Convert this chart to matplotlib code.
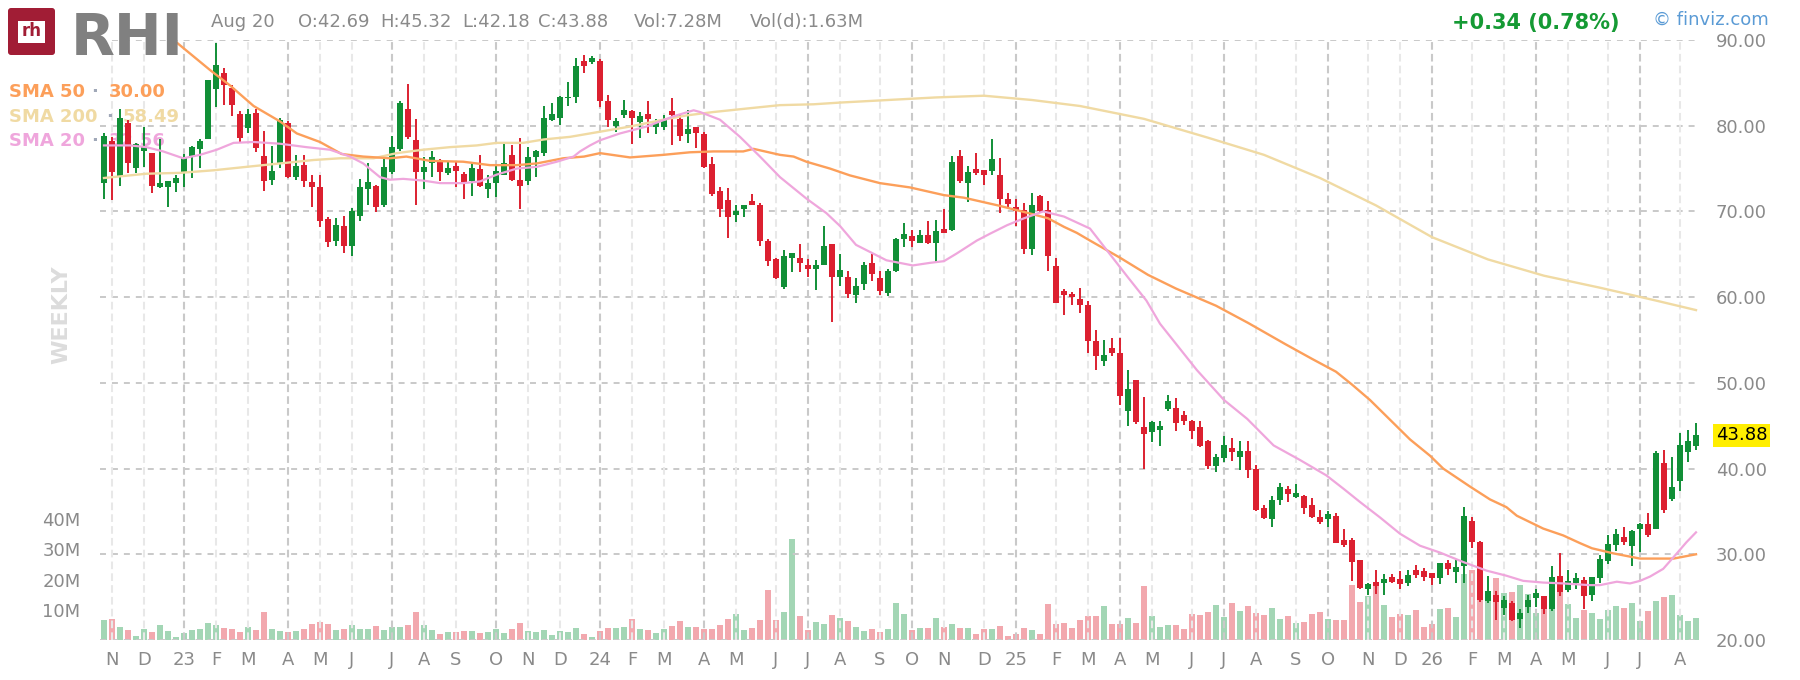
import matplotlib
matplotlib.use('Agg')
import matplotlib.pyplot as plt
import numpy as np
import pandas as pd
from matplotlib.patches import FancyBboxPatch, Rectangle

plt.rcParams['lines.scale_dashes'] = False

# weekly candles, first bar = week ending 2022-10-28
first_friday = '2022-10-28'
opens = [
    73.3, 78.2, 74.1, 80.3, 75.1, 77.0, 76.8, 72.8, 72.9, 73.3,
    74.5, 76.5, 77.3, 78.5, 84.3, 86.1, 84.4, 81.4, 79.7, 81.5,
    76.5, 73.7, 75.7, 80.3, 74.0, 75.4, 73.4, 72.9, 69.1, 66.6,
    68.3, 66.0, 69.5, 72.6, 73.0, 70.7, 74.6, 77.3, 82.0, 78.3,
    74.6, 75.7, 76.0, 74.5, 75.3, 74.4, 73.5, 74.9, 72.6, 73.3,
    74.3, 76.6, 73.7, 73.5, 76.3, 76.8, 80.7, 80.9, 83.2, 83.4,
    87.5, 87.4, 87.5, 82.9, 80.0, 81.2, 81.7, 80.4, 81.4, 79.8,
    79.9, 81.7, 80.8, 79.0, 79.8, 79.0, 75.5, 72.4, 71.3, 69.6,
    70.3, 71.2, 70.8, 66.6, 64.5, 61.2, 64.6, 64.6, 63.8, 63.3,
    63.8, 66.2, 62.4, 62.3, 60.2, 61.5, 64.0, 62.2, 60.5, 63.1,
    66.8, 67.1, 66.3, 67.2, 66.3, 68.0, 67.8, 76.5, 73.3, 75.0,
    74.8, 74.7, 74.2, 71.4, 70.5, 70.2, 65.6, 71.8, 70.2, 63.6,
    60.7, 60.4, 59.8, 59.1, 54.9, 52.6, 54.1, 53.5, 46.7, 50.3,
    44.9, 44.3, 44.5, 46.9, 47.1, 46.2, 45.6, 44.8, 43.2, 40.3,
    41.2, 42.4, 41.4, 42.0, 39.9, 35.4, 34.1, 36.3, 37.6, 36.7,
    36.8, 35.7, 34.4, 34.1, 34.5, 31.7, 31.7, 29.3, 26.0, 26.8,
    26.6, 27.4, 27.1, 26.7, 28.2, 28.0, 27.8, 27.2, 29.0, 27.9,
    28.6, 33.9, 31.4, 24.6, 25.3, 23.7, 24.3, 22.4, 23.8, 24.9,
    25.1, 23.6, 27.5, 25.8, 26.6, 27.0, 25.3, 27.2, 29.2, 31.1,
    32.0, 31.0, 33.0, 33.5, 33.0, 40.6, 36.4, 38.5, 41.9, 42.69,
]
highs = [
    79.1, 78.7, 81.9, 80.7, 78.0, 79.8, 76.8, 78.4, 73.5, 74.2,
    76.7, 77.6, 78.5, 85.3, 89.7, 86.7, 84.7, 81.7, 82.0, 82.0,
    79.4, 77.6, 80.9, 80.5, 76.6, 76.6, 74.2, 74.2, 69.4, 69.2,
    69.5, 70.4, 73.8, 75.7, 73.1, 76.4, 78.8, 82.9, 84.9, 80.8,
    76.3, 77.0, 76.1, 75.8, 75.9, 74.6, 75.5, 76.6, 74.2, 75.5,
    77.9, 77.7, 78.6, 77.5, 77.2, 82.3, 82.7, 83.5, 85.1, 87.9,
    88.2, 88.1, 87.8, 83.6, 80.9, 83.0, 81.8, 81.6, 82.9, 80.8,
    81.3, 83.2, 81.3, 81.8, 79.9, 79.3, 76.4, 72.8, 72.7, 70.7,
    70.8, 72.0, 71.0, 66.8, 64.6, 65.5, 65.2, 66.2, 64.4, 64.3,
    68.3, 66.2, 65.0, 63.0, 62.2, 64.1, 65.0, 63.0, 63.3, 66.9,
    68.6, 67.8, 67.8, 68.9, 69.0, 70.3, 76.5, 77.2, 75.3, 76.8,
    74.8, 78.4, 76.2, 72.2, 71.4, 71.0, 72.1, 71.9, 71.2, 64.6,
    60.9, 60.6, 61.1, 59.6, 56.2, 55.0, 55.2, 55.2, 51.5, 50.3,
    48.4, 45.6, 45.5, 48.6, 48.2, 46.7, 45.7, 45.6, 43.3, 41.7,
    43.8, 43.6, 43.2, 43.2, 40.4, 35.7, 36.8, 38.3, 38.0, 38.2,
    36.9, 36.6, 35.2, 35.1, 34.8, 32.9, 31.9, 29.3, 26.7, 28.2,
    27.7, 27.7, 28.0, 28.2, 28.8, 28.4, 27.8, 29.0, 29.3, 29.3,
    35.5, 34.3, 31.6, 27.5, 25.7, 25.1, 24.5, 23.6, 25.3, 26.0,
    25.1, 28.6, 30.2, 28.2, 27.8, 27.4, 27.4, 29.9, 32.3, 32.9,
    33.2, 32.8, 33.7, 34.8, 42.0, 42.2, 41.3, 44.1, 44.5, 45.32,
]
lows = [
    71.5, 71.3, 73.0, 74.5, 74.5, 75.2, 72.2, 72.7, 70.5, 72.3,
    72.9, 73.9, 75.1, 78.4, 82.2, 82.4, 81.1, 78.1, 79.1, 76.9,
    72.4, 73.1, 75.1, 73.9, 73.7, 72.9, 70.5, 68.2, 65.9, 66.0,
    65.2, 64.8, 68.9, 70.8, 69.9, 70.5, 74.4, 77.1, 78.4, 70.7,
    72.6, 74.0, 73.5, 74.3, 72.8, 71.4, 71.8, 72.9, 71.6, 71.7,
    74.2, 73.5, 70.3, 73.1, 74.0, 76.5, 80.6, 80.1, 82.3, 82.6,
    86.1, 87.2, 82.2, 79.8, 79.3, 80.9, 77.9, 78.6, 79.2, 79.0,
    79.5, 77.7, 78.2, 78.0, 77.4, 75.1, 71.8, 69.4, 66.9, 68.8,
    69.3, 70.7, 66.0, 63.6, 62.1, 61.0, 62.9, 62.9, 62.4, 60.8,
    63.7, 57.1, 61.3, 59.9, 59.3, 60.8, 61.9, 60.2, 60.1, 62.9,
    65.9, 65.9, 66.3, 66.2, 64.0, 67.5, 67.7, 73.3, 71.1, 74.2,
    73.1, 74.2, 69.8, 70.5, 68.3, 65.0, 64.9, 69.8, 63.1, 59.3,
    57.9, 59.1, 58.2, 53.5, 51.5, 52.0, 53.1, 47.4, 45.0, 45.2,
    39.9, 43.1, 42.6, 46.7, 44.4, 45.1, 43.4, 42.5, 39.9, 39.6,
    40.8, 40.9, 39.8, 38.9, 35.1, 34.1, 33.2, 35.7, 36.1, 36.6,
    34.7, 34.2, 33.5, 33.2, 31.3, 30.8, 26.9, 26.0, 25.2, 25.4,
    25.3, 26.7, 25.9, 26.3, 27.2, 26.9, 26.4, 26.5, 27.6, 26.7,
    26.6, 30.7, 24.4, 24.3, 22.3, 22.9, 22.2, 21.4, 23.2, 23.8,
    23.0, 23.4, 25.1, 25.6, 25.9, 23.6, 24.5, 26.6, 28.9, 30.4,
    31.1, 28.6, 30.3, 32.0, 32.9, 34.8, 36.2, 37.4, 40.8, 42.18,
]
closes = [
    78.8, 74.6, 80.9, 75.6, 77.9, 77.5, 73.0, 73.3, 73.5, 73.9,
    76.2, 77.5, 78.2, 85.3, 87.1, 84.7, 82.4, 78.6, 81.4, 77.4,
    73.5, 74.7, 80.7, 74.0, 75.3, 73.5, 72.9, 68.9, 66.4, 68.4,
    66.0, 70.0, 72.8, 73.4, 70.5, 75.2, 77.5, 82.7, 78.7, 74.6,
    75.2, 76.3, 74.6, 75.1, 74.7, 73.3, 75.1, 73.0, 73.3, 74.7,
    75.7, 73.7, 73.0, 76.4, 77.0, 80.9, 81.4, 83.4, 83.4, 87.0,
    87.0, 87.9, 82.9, 80.7, 80.5, 81.8, 80.9, 81.1, 80.8, 80.3,
    80.7, 81.2, 78.8, 79.6, 79.2, 75.2, 72.0, 70.3, 69.4, 70.1,
    70.8, 70.7, 66.6, 64.2, 62.2, 64.8, 65.1, 64.0, 63.3, 63.8,
    66.0, 62.4, 63.2, 60.4, 61.3, 63.8, 62.7, 60.7, 63.1, 66.8,
    67.4, 66.5, 67.2, 66.3, 67.7, 67.5, 75.8, 73.5, 74.6, 74.5,
    74.3, 76.1, 71.4, 70.9, 70.0, 65.6, 70.8, 70.0, 64.8, 59.3,
    60.2, 60.0, 59.1, 54.9, 53.1, 53.2, 53.5, 48.5, 49.3, 45.4,
    44.0, 45.4, 45.0, 47.9, 45.3, 45.6, 44.4, 42.6, 40.3, 41.3,
    42.8, 41.9, 42.0, 39.8, 35.2, 34.2, 36.3, 37.9, 37.0, 37.2,
    35.4, 34.4, 33.8, 34.7, 31.3, 31.1, 29.1, 26.1, 26.5, 26.3,
    27.1, 26.8, 26.5, 27.6, 27.6, 27.4, 27.2, 29.0, 28.3, 28.5,
    34.5, 31.4, 24.7, 25.7, 24.4, 24.7, 22.3, 23.2, 24.7, 25.5,
    23.6, 27.4, 25.6, 26.9, 27.2, 25.1, 27.3, 29.4, 31.2, 32.4,
    31.4, 32.7, 33.5, 32.3, 41.8, 35.2, 37.8, 42.7, 43.2, 43.88,
]
volumes_m = [
    6.6, 6.9, 4.3, 3.3, 1.3, 3.6, 2.6, 4.9, 2.9, 1.0,
    2.3, 3.3, 3.6, 5.6, 4.9, 4.0, 3.6, 2.6, 4.3, 3.3,
    9.3, 3.6, 2.9, 2.6, 2.9, 3.6, 5.3, 6.0, 5.3, 3.3,
    3.6, 4.9, 3.6, 3.6, 4.6, 3.3, 4.3, 4.3, 4.9, 9.3,
    4.9, 3.3, 2.0, 2.6, 2.6, 2.9, 2.9, 2.3, 2.6, 3.6,
    2.3, 3.6, 5.6, 2.9, 2.6, 3.3, 1.7, 2.9, 2.6, 4.0,
    2.0, 1.0, 2.9, 4.0, 4.0, 4.3, 6.9, 3.6, 3.3, 2.3,
    3.6, 4.6, 6.3, 4.3, 4.3, 3.6, 3.6, 4.9, 6.9, 8.6,
    3.3, 4.0, 6.6, 16.6, 6.6, 9.3, 33.4, 8.0, 3.3, 6.0,
    5.3, 8.3, 7.3, 6.3, 4.3, 2.9, 3.6, 2.6, 3.6, 12.3,
    8.6, 3.3, 4.0, 4.0, 7.3, 4.3, 5.3, 4.0, 4.0, 2.0,
    3.6, 3.6, 4.6, 1.3, 2.0, 4.0, 3.3, 2.0, 11.9, 5.3,
    5.6, 4.0, 6.6, 7.9, 7.9, 11.3, 5.3, 5.3, 7.3, 5.6,
    17.9, 7.9, 4.3, 4.9, 4.9, 3.6, 8.6, 8.3, 9.3, 11.6,
    7.6, 12.3, 9.6, 11.3, 8.9, 8.3, 10.6, 6.9, 7.9, 5.6,
    6.0, 8.6, 9.3, 7.0, 6.6, 6.6, 18.1, 12.7, 14.5, 18.9,
    11.6, 7.5, 8.6, 8.3, 9.9, 4.4, 5.4, 10.3, 10.6, 7.6,
    21.8, 23.2, 17.0, 13.3, 20.6, 15.6, 15.9, 18.2, 15.2, 9.0,
    11.9, 10.5, 17.0, 11.9, 7.3, 9.9, 9.0, 7.0, 9.9, 11.2,
    10.6, 12.3, 6.3, 9.7, 13.0, 14.3, 14.9, 8.3, 6.3, 7.28,
]

# moving averages (x = week index)
sma50_wk = [0, 4, 8.7, 13.25, 15.75, 18.7, 22, 24.1, 27, 29.7, 32.4, 35.75, 37.8,
            40.75, 44.9, 48.25, 51.6, 54.1, 57.4, 60, 62, 65.75, 69.9, 73.25, 76.2,
            79.9, 81.2, 84.5, 86.2, 87.8, 90.75, 93.25, 97, 100.75, 105, 107.5,
            111.75, 116, 118, 120, 121.6, 123.25, 127, 130.5, 134, 139, 143, 147.7,
            151, 154, 156, 158.25, 163.25, 165.75, 167.4, 170.75, 173.25, 175.3,
            176.6, 179.9, 182.4, 184.5, 186, 188.7, 192, 196.2, 199]
sma50 = [96.5, 93.3, 90.0, 86.5, 84.7, 82.3, 80.5, 79.1, 78.1, 76.7, 76.4, 76.2, 76.4,
         75.9, 75.8, 75.4, 75.4, 75.6, 76.2, 76.4, 76.8, 76.3, 76.6, 76.9, 77.0,
         77.0, 77.3, 76.6, 76.4, 75.8, 75.0, 74.2, 73.3, 72.8, 71.9, 71.6,
         70.7, 69.7, 69.2, 68.2, 67.5, 66.6, 64.6, 62.6, 61.0, 59.0, 57.0, 54.5,
         52.8, 51.3, 49.8, 48.0, 43.4, 41.5, 40.0, 37.9, 36.4, 35.5,
         34.5, 33.0, 32.2, 31.3, 30.7, 30.1, 29.5, 29.5, 30.00]

sma200_wk = [0, 5.3, 9.5, 13.7, 17.8, 22, 26.2, 29.5, 33.7, 36.6, 39.9, 43.25, 46.6,
             49.1, 52.4, 55, 58.25, 60.75, 65.75, 69.9, 72.8, 76.2, 80.3, 84.5, 88.7,
             92, 98, 104, 110, 116, 122, 130, 138, 145, 152, 159, 166, 173, 180,
             187, 194, 199]
sma200 = [73.9, 74.4, 74.5, 74.8, 75.2, 75.6, 76.0, 76.2, 76.2, 76.8, 77.2, 77.5, 77.7,
          78.0, 78.0, 78.4, 78.7, 79.1, 79.9, 80.7, 81.2, 81.6, 82.0, 82.4, 82.5,
          82.7, 83.0, 83.3, 83.5, 83.0, 82.3, 80.8, 78.6, 76.6, 73.9, 70.7, 67.0,
          64.4, 62.5, 61.1, 59.6, 58.49]

sma20_wk = [0, 3.25, 5.3, 7.4, 9.9, 12, 14.1, 16.2, 18.7, 22, 25.3, 28.25, 30.75,
            32.4, 34.5, 35.75, 37.4, 39.9, 42, 44.9, 47, 49.1, 51.6, 54.1, 56.6,
            58.7, 59.5, 60.75, 62, 64.5, 67.8, 71.2, 73.7, 74.5, 77, 79.5, 82,
            84.5, 87.8, 90.3, 92, 94, 97.8, 101.1, 103.25, 105, 106.6, 109.1,
            110.75, 112.9, 115, 117.4, 120, 123.25, 126, 128, 130.3, 132, 136.6,
            140, 142.9, 146.2, 149.5, 152.8, 155, 157, 159.5, 162, 164.5, 167,
            169.9, 172.8, 175.3, 177.4, 179.9, 182.4, 185.75, 187, 189.1, 190.75,
            192, 193.25, 194.9, 196.6, 197.8, 199]
sma20 = [77.7, 77.7, 77.5, 77.0, 76.2, 76.6, 77.2, 78.0, 78.1, 77.9, 77.5, 77.2, 76.4,
         75.6, 74.0, 73.7, 73.8, 73.6, 73.3, 73.3, 73.5, 74.3, 75.0, 75.2, 75.8,
         76.4, 77.0, 77.7, 78.3, 79.1, 79.9, 81.1, 81.8, 81.6, 80.7, 78.7, 76.4,
         74.0, 71.5, 69.8, 68.3, 66.1, 64.3, 63.7, 64.0, 64.2, 65.1, 66.6,
         67.4, 68.4, 69.2, 70.0, 69.4, 68.0, 64.7, 62.3, 59.6, 56.9, 51.5,
         48.0, 45.8, 42.7, 41.0, 39.2, 37.6, 36.1, 34.3, 32.4, 31.0, 30.2,
         29.1, 28.1, 27.5, 26.9, 26.7, 26.6, 26.4, 26.4, 26.8, 26.6,
         26.9, 27.4, 28.3, 30.1, 31.4, 32.56]

month_labels = ['N', 'D', '23', 'F', 'M', 'A', 'M', 'J', 'J', 'A', 'S', 'O',
                'N', 'D', '24', 'F', 'M', 'A', 'M', 'J', 'J', 'A', 'S', 'O',
                'N', 'D', '25', 'F', 'M', 'A', 'M', 'J', 'J', 'A', 'S', 'O',
                'N', 'D', '26', 'F', 'M', 'A', 'M', 'J', 'J', 'A']
price_ticks = [20, 30, 40, 50, 60, 70, 80, 90]
vol_ticks = [10, 20, 30, 40]

day_change = 0.34
day_change_pct = 0.78
header_date = 'Aug 20'
day_vol = 1.63

GREEN = '#118f37'
RED = '#dc2030'
VGREEN = '#a3d6b5'
VRED = '#f2a8ae'
C50 = '#fc9f5a'
C200 = '#f0daa3'
C20 = '#efa6dc'
GRAY = '#8a8a8a'

W, H = 1800, 680
fig = plt.figure(figsize=(18, 6.8), dpi=100)
fig.patch.set_facecolor('white')


def fx(x):
    return x / W


def fy(y):
    return 1 - y / H


ax = fig.add_axes([fx(100), fy(640), 1600 / W, 600 / H])
axv = ax.twinx()
ax.set_zorder(2)
axv.set_zorder(1)
ax.patch.set_visible(False)

n = len(closes)
x = np.arange(n)
o = np.array(opens)
h = np.array(highs)
l = np.array(lows)
c = np.array(closes)
up = c >= o

# volume
axv.bar(x, volumes_m, 0.75, color=np.where(up, VGREEN, VRED), linewidth=0)
axv.set_ylim(0, 600 / 3.02)
axv.set_yticks(vol_ticks)
axv.set_yticklabels([f'{v}M' for v in vol_ticks])
axv.yaxis.set_ticks_position('left')
axv.tick_params(axis='y', length=0, pad=14, labelsize=13, labelcolor=GRAY,
                left=True, right=False, labelleft=True, labelright=False)

# grid
fridays = pd.date_range(first_friday, periods=n, freq='7D')
month_pos = [i for i in range(1, n) if fridays[i].month != fridays[i - 1].month]
for y in price_ticks:
    ax.axhline(y, color='#c9c9c9', lw=1.4, ls=(0, (4.3, 4.3)), zorder=1)
for i in month_pos:
    col = '#c9c9c9' if fridays[i].month in (1, 4, 7, 10) else '#e8e8e8'
    ax.axvline(i, color=col, lw=1.5, ls=(0, (5.5, 3)), zorder=1)

# candles
cols = np.where(up, GREEN, RED)
ax.vlines(x, l, h, colors=cols, lw=1.4, zorder=3)
ax.bar(x, np.maximum(np.abs(c - o), 0.12), 0.75, bottom=np.minimum(o, c),
       color=cols, linewidth=0, zorder=4)

# moving averages
ax.plot(sma200_wk, sma200, color=C200, lw=1.7, zorder=5)
ax.plot(sma50_wk, sma50, color=C50, lw=1.7, zorder=5)
ax.plot(sma20_wk, sma20, color=C20, lw=1.6, zorder=5)

ax.set_xlim(-0.5, n - 0.5)
ax.set_ylim(20, 90)
ax.set_xticks(month_pos)
ax.set_xticklabels(month_labels)
ax.set_yticks(price_ticks)
ax.set_yticklabels([f'{v:.2f}' for v in price_ticks])
ax.yaxis.tick_right()
ax.tick_params(axis='y', length=0, pad=11.5, labelsize=13, labelcolor=GRAY)
ax.tick_params(axis='x', length=0, pad=8, labelsize=13, labelcolor=GRAY)
for a in (ax, axv):
    for s in a.spines.values():
        s.set_visible(False)

# last price tag
ax.annotate(f'{closes[-1]:.2f}', xy=(1, closes[-1]), xycoords=('axes fraction', 'data'),
            xytext=(11.5, 0), textcoords='offset points', va='center', ha='left',
            fontsize=13, color='black',
            bbox=dict(boxstyle='square,pad=0.15', fc='#ffee00', ec='none'),
            annotation_clip=False, zorder=10)

# header
lax = fig.add_axes([fx(8), fy(55), 47 / W, 47 / H])
lax.set_xlim(0, 47)
lax.set_ylim(0, 47)
lax.axis('off')
lax.add_patch(FancyBboxPatch((3, 3), 41, 41, boxstyle='round,pad=3',
                             fc='#a11d35', ec='none'))
lax.add_patch(Rectangle((10, 12), 27, 22, fc='white', ec='none'))
lax.text(23.5, 19, 'rh', ha='center', va='baseline', fontsize=12,
         fontweight='bold', color='#a11d35')

fig.text(fx(71), fy(55), 'RHI', fontsize=41, fontweight='bold', color='#808080',
         ha='left', va='baseline')

header = [(header_date, 211), (f'O:{opens[-1]:.2f}', 298), (f'H:{highs[-1]:.2f}', 380),
          (f'L:{lows[-1]:.2f}', 462), (f'C:{closes[-1]:.2f}', 538),
          (f'Vol:{volumes_m[-1]:.2f}M', 634), (f'Vol(d):{day_vol:.2f}M', 750)]
for txt, px in header:
    fig.text(fx(px), fy(27), txt, fontsize=13, color=GRAY, ha='left', va='baseline')

fig.text(fx(1619), fy(29), f'+{day_change:.2f} ({day_change_pct:.2f}%)', fontsize=15,
         fontweight='bold', color='#159a34', ha='right', va='baseline')
fig.text(fx(1653), fy(25), '\u00a9 finviz.com', fontsize=13, color='#5b9bd5',
         ha='left', va='baseline')

# legend
legend_rows = [('SMA 50', sma50[-1], C50, 97, 95, 109),
               ('SMA 200', sma200[-1], C200, 122, 110, 123),
               ('SMA 20', sma20[-1], C20, 146, 95, 109)]
for name, val, col, base, dot_x, val_x in legend_rows:
    ax.text(fx(9), fy(base), name, transform=fig.transFigure, fontsize=13,
            fontweight='bold', color=col, ha='left', va='baseline', zorder=2)
    ax.text(fx(dot_x), fy(base), '\u00b7', transform=fig.transFigure, fontsize=13,
            fontweight='bold', color='#a0a8b8', ha='center', va='baseline', zorder=2)
    ax.text(fx(val_x), fy(base), f'{val:.2f}', transform=fig.transFigure, fontsize=13,
            fontweight='bold', color=col, ha='left', va='baseline', zorder=2)

fig.text(fx(61), fy(315), 'WEEKLY', rotation=90, ha='center', va='center',
         fontsize=16, fontweight='bold', color='#dcdcdc')

fig.savefig('out.png', dpi=100, facecolor='white')
